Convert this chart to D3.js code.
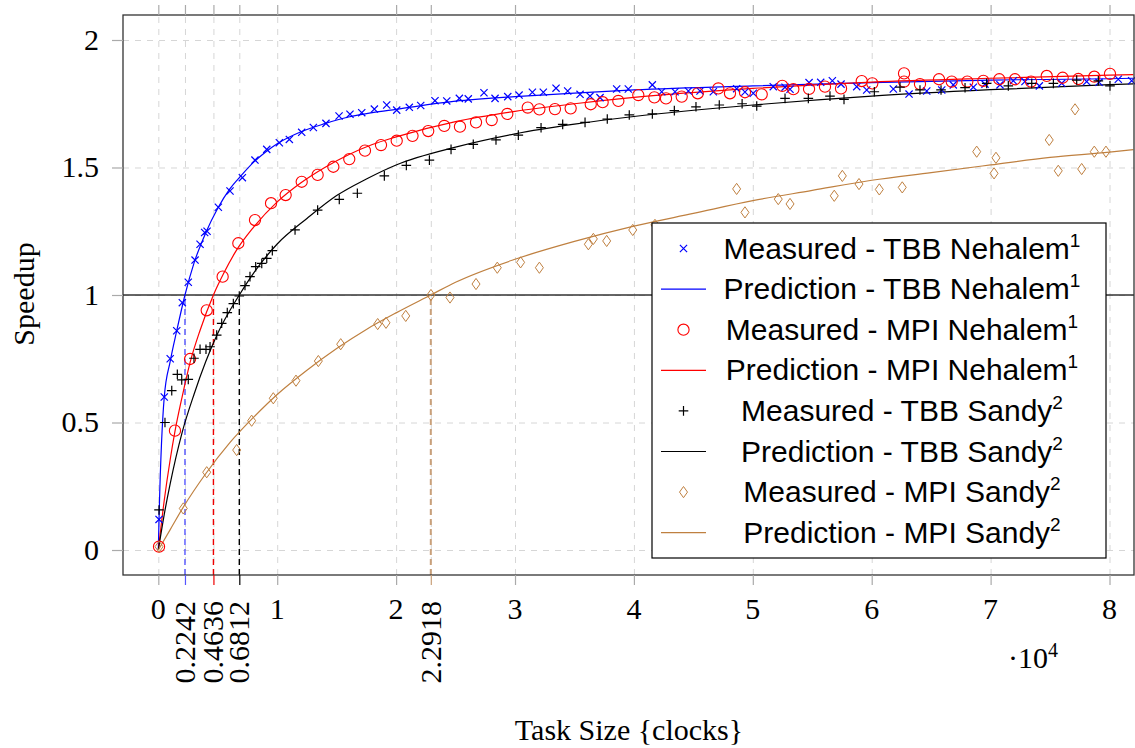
<!DOCTYPE html>
<html>
<head>
<meta charset="utf-8">
<script src="https://cdn.jsdelivr.net/npm/d3@7"></script>
<style>
  body { margin: 0; background: #fff; }
  .tick-label { font-family: "Liberation Serif", serif; font-size: 30px; fill: #000; }
  .legend text { font-family: "Liberation Sans", sans-serif; font-size: 30px; fill: #000; }
</style>
</head>
<body>
<div id="chart"></div>
<script>
// x values are task size in units of 10^4 clocks
const xMajorTicks = [0, 1, 2, 3, 4, 5, 6, 7, 8];
const xThresholdTicks = [0.2242, 0.4636, 0.6812, 2.2918];
const yTicks = [0, 0.5, 1, 1.5, 2];

const tbbNehalemMeasured = [[0.006,0.12],[0.05,0.60],[0.1,0.75],[0.155,0.86],[0.202,0.97],[0.252,1.05],[0.309,1.137],[0.351,1.199],[0.39,1.245],[0.41,1.25],[0.505,1.344],[0.603,1.408],[0.707,1.46],[0.813,1.529],[0.912,1.571],[1.018,1.597],[1.102,1.61],[1.206,1.638],[1.304,1.657],[1.41,1.673],[1.52,1.702],[1.612,1.709],[1.711,1.715],[1.817,1.729],[1.921,1.745],[2.005,1.725],[2.111,1.736],[2.207,1.743],[2.327,1.762],[2.426,1.761],[2.532,1.771],[2.607,1.769],[2.739,1.793],[2.832,1.771],[2.939,1.778],[3.034,1.784],[3.146,1.795],[3.238,1.795],[3.345,1.811],[3.443,1.8],[3.547,1.787],[3.631,1.78],[3.715,1.774],[3.855,1.808],[3.953,1.808],[4.155,1.824],[4.234,1.797],[4.346,1.797],[4.458,1.8],[4.556,1.8],[4.668,1.797],[4.864,1.809],[4.934,1.796],[5.004,1.791],[5.172,1.817],[5.271,1.815],[5.313,1.807],[5.473,1.833],[5.571,1.834],[5.669,1.84],[5.742,1.827],[5.874,1.817],[5.958,1.804],[6.182,1.808],[6.314,1.788],[6.463,1.8],[6.589,1.804],[6.686,1.824],[6.855,1.815],[6.953,1.827],[7.079,1.824],[7.191,1.84],[7.289,1.837],[7.41,1.82],[7.598,1.83],[7.808,1.837],[7.912,1.834],[8.074,1.846],[8.186,1.84]];
const tbbNehalemPrediction = [[0,0],[0.006,0.12],[0.05,0.6],[0.1,0.74],[0.155,0.86],[0.2242,1.0],[0.3,1.125],[0.4,1.245],[0.5,1.34],[0.6,1.415],[0.7,1.47],[0.8,1.52],[0.9,1.56],[1.0,1.593],[1.2,1.64],[1.4,1.672],[1.6,1.698],[1.8,1.715],[2.0,1.728],[2.5,1.76],[3,1.778],[3.5,1.792],[4,1.804],[5,1.82],[6,1.833],[7,1.843],[8,1.848],[8.2,1.85]];

const mpiNehalemMeasured = [[0.006,0.013],[0.14,0.468],[0.267,0.749],[0.407,0.94],[0.541,1.072],[0.673,1.203],[0.813,1.294],[0.948,1.36],[1.071,1.392],[1.206,1.444],[1.34,1.471],[1.472,1.503],[1.606,1.533],[1.738,1.566],[1.873,1.588],[2.005,1.605],[2.138,1.624],[2.27,1.643],[2.405,1.663],[2.537,1.66],[2.672,1.677],[2.804,1.686],[2.935,1.71],[3.107,1.735],[3.205,1.728],[3.336,1.729],[3.468,1.732],[3.637,1.748],[3.737,1.756],[3.869,1.761],[4.037,1.784],[4.172,1.775],[4.27,1.771],[4.402,1.778],[4.537,1.791],[4.71,1.81],[4.808,1.791],[4.934,1.795],[5.075,1.787],[5.248,1.82],[5.341,1.807],[5.473,1.808],[5.607,1.817],[5.742,1.81],[5.916,1.839],[6.005,1.83],[6.272,1.869],[6.272,1.837],[6.406,1.827],[6.566,1.846],[6.673,1.837],[6.804,1.837],[6.939,1.84],[7.073,1.846],[7.205,1.846],[7.34,1.837],[7.472,1.859],[7.606,1.852],[7.738,1.847],[7.872,1.856],[8.004,1.867]];
const mpiNehalemPrediction = [[0,0],[0.05,0.195],[0.1,0.355],[0.14,0.465],[0.2,0.6],[0.267,0.735],[0.35,0.86],[0.4636,1.0],[0.55,1.085],[0.65,1.17],[0.8,1.265],[1.0,1.365],[1.2,1.44],[1.4,1.5],[1.6,1.55],[1.8,1.59],[2.0,1.62],[2.5,1.68],[3,1.72],[3.5,1.75],[4,1.775],[5,1.81],[6,1.835],[7,1.85],[8,1.862],[8.2,1.864]];

const tbbSandyMeasured = [[0.006,0.157],[0.056,0.5],[0.113,0.625],[0.16,0.689],[0.197,0.667],[0.252,0.669],[0.3,0.752],[0.351,0.787],[0.401,0.787],[0.435,0.797],[0.491,0.843],[0.533,0.889],[0.58,0.931],[0.631,0.966],[0.681,0.996],[0.729,1.037],[0.771,1.072],[0.819,1.111],[0.87,1.124],[0.912,1.144],[0.959,1.174],[1.15,1.255],[1.34,1.333],[1.522,1.375],[1.674,1.399],[1.901,1.467],[2.086,1.508],[2.28,1.529],[2.462,1.571],[2.649,1.591],[2.84,1.608],[3.028,1.627],[3.219,1.656],[3.401,1.669],[3.589,1.677],[3.776,1.69],[3.961,1.706],[4.155,1.71],[4.34,1.723],[4.522,1.738],[4.718,1.745],[4.91,1.75],[5.033,1.741],[5.271,1.771],[5.467,1.771],[5.649,1.78],[5.767,1.767],[6.022,1.797],[6.238,1.815],[6.406,1.804],[6.583,1.804],[6.785,1.813],[6.967,1.83],[7.149,1.82],[7.346,1.83],[7.528,1.83],[7.724,1.843],[7.906,1.84],[8.004,1.82]];
const tbbSandyPrediction = [[0,0],[0.05,0.14],[0.1,0.26],[0.2,0.46],[0.3,0.61],[0.4,0.74],[0.5,0.85],[0.6812,1.0],[0.8,1.085],[1.0,1.2],[1.25,1.3],[1.5,1.39],[1.75,1.455],[2.0,1.51],[2.5,1.58],[3,1.632],[3.5,1.67],[4,1.70],[5,1.745],[6,1.78],[7,1.805],[8,1.825],[8.2,1.828]];

const mpiSandyMeasured = [[0.006,0.013],[0.21,0.163],[0.407,0.305],[0.659,0.392],[0.785,0.507],[0.967,0.595],[1.158,0.664],[1.346,0.741],[1.534,0.807],[1.845,0.886],[1.915,0.891],[2.081,0.918],[2.293,1.0],[2.453,0.99],[2.672,1.043],[2.851,1.107],[3.047,1.128],[3.205,1.107],[3.617,1.199],[3.659,1.22],[3.771,1.212],[3.99,1.255],[4.177,1.275],[4.864,1.416],[4.934,1.324],[5.214,1.376],[5.313,1.357],[5.685,1.389],[5.753,1.467],[5.893,1.435],[6.064,1.414],[6.257,1.422],[6.883,1.562],[7.029,1.477],[7.045,1.538],[7.493,1.608],[7.569,1.487],[7.71,1.728],[7.766,1.494],[7.872,1.562],[7.97,1.562]];
const mpiSandyPrediction = [[0,0],[0.1,0.08],[0.21,0.168],[0.4,0.3],[0.6,0.42],[0.8,0.52],[1.0,0.61],[1.25,0.705],[1.5,0.79],[1.75,0.865],[2.0,0.93],[2.2918,1.0],[2.5,1.05],[3,1.14],[3.5,1.21],[4,1.27],[4.5,1.32],[5,1.37],[5.5,1.41],[6,1.45],[6.5,1.48],[7,1.51],[7.5,1.54],[8,1.56],[8.2,1.57]];

const BROWN = '#bf8040';

var series = [
  {name: 'TBB Nehalem', sup: '1', color: '#0000ff', marker: 'cross', measured: tbbNehalemMeasured, prediction: tbbNehalemPrediction},
  {name: 'MPI Nehalem', sup: '1', color: '#ff0000', marker: 'circle', measured: mpiNehalemMeasured, prediction: mpiNehalemPrediction},
  {name: 'TBB Sandy', sup: '2', color: '#000000', marker: 'plus', measured: tbbSandyMeasured, prediction: tbbSandyPrediction},
  {name: 'MPI Sandy', sup: '2', color: BROWN, marker: 'diamond', measured: mpiSandyMeasured, prediction: mpiSandyPrediction}
];
// colour of each threshold tick, same order as xThresholdTicks
var thresholdColors = ['#5555ff', '#ee0000', '#000000', '#c9a07a'];

var width = 1135, height = 748;
var margin = {top: 15, right: 1, bottom: 173, left: 123};
var w = width - margin.left - margin.right;
var h = height - margin.top - margin.bottom;

var svg = d3.select('#chart').append('svg').attr('width', width).attr('height', height);
var g = svg.append('g').attr('transform', 'translate(' + margin.left + ',' + margin.top + ')');

var x = d3.scaleLinear().domain([-0.297, 8.206]).range([0, w]);
var y = d3.scaleLinear().domain([-0.098, 2.098]).range([h, 0]);

var allXTicks = xMajorTicks.concat(xThresholdTicks).sort(function (a, b) { return a - b; });

// grid
g.append('g')
  .attr('transform', 'translate(0,' + h + ')')
  .call(d3.axisBottom(x).tickValues(allXTicks).tickSize(-h).tickFormat(''))
  .call(function (s) {
    s.select('.domain').remove();
    s.selectAll('line').attr('stroke', '#d6d6d6').attr('stroke-width', 1).attr('stroke-dasharray', '6,6');
  });
g.append('g')
  .call(d3.axisLeft(y).tickValues(yTicks).tickSize(-w).tickFormat(''))
  .call(function (s) {
    s.select('.domain').remove();
    s.selectAll('line').attr('stroke', '#d6d6d6').attr('stroke-width', 1).attr('stroke-dasharray', '6,6');
  });

// speedup = 1 reference line
g.append('line')
  .attr('x1', 0).attr('x2', w)
  .attr('y1', y(1)).attr('y2', y(1))
  .attr('stroke', '#333').attr('stroke-width', 1.3);

// threshold markers: dashed verticals from the bottom up to speedup 1
g.selectAll('.threshold')
  .data(xThresholdTicks)
  .enter().append('line')
  .attr('class', 'threshold')
  .attr('x1', function (d) { return x(d); })
  .attr('x2', function (d) { return x(d); })
  .attr('y1', h)
  .attr('y2', y(1))
  .attr('stroke', function (d, i) { return thresholdColors[i]; })
  .attr('stroke-width', function (d, i) { return i === 3 ? 2 : 1.4; })
  .attr('stroke-dasharray', '6,4');

var line = d3.line()
  .x(function (d) { return x(d[0]); })
  .y(function (d) { return y(d[1]); })
  .curve(d3.curveMonotoneX);

var markerPaths = {
  cross: 'M-3.6,-3.6L3.6,3.6M-3.6,3.6L3.6,-3.6',
  plus: 'M-4.8,0H4.8M0,-4.8V4.8',
  diamond: 'M0,-5.6L4,0L0,5.6L-4,0Z'
};

function drawMarker(sel, type, color) {
  if (type === 'circle') {
    sel.append('circle').attr('r', 5.6).attr('fill', 'none').attr('stroke', color).attr('stroke-width', 1.1);
  } else {
    sel.append('path').attr('d', markerPaths[type]).attr('fill', 'none').attr('stroke', color)
      .attr('stroke-width', type === 'diamond' ? 1 : 1.2);
  }
}

series.forEach(function (s) {
  g.append('path')
    .datum(s.prediction)
    .attr('fill', 'none')
    .attr('stroke', s.color)
    .attr('stroke-width', 1.2)
    .attr('d', line);
});

series.forEach(function (s) {
  g.append('g').selectAll('g')
    .data(s.measured)
    .enter().append('g')
    .attr('transform', function (d) { return 'translate(' + x(d[0]) + ',' + y(d[1]) + ')'; })
    .each(function () { drawMarker(d3.select(this), s.marker, s.color); });
});

// frame
g.append('rect')
  .attr('width', w).attr('height', h)
  .attr('fill', 'none').attr('stroke', '#333').attr('stroke-width', 1.3);

// outside ticks on all four sides
function tickStyle(s, colorFn) {
  s.select('.domain').remove();
  s.selectAll('line').attr('stroke', function (d) { return colorFn(d); }).attr('stroke-width', 1.2);
}
function xTickColor(d) {
  var i = xThresholdTicks.indexOf(d);
  return i >= 0 ? thresholdColors[i] : '#aaa';
}

g.append('g')
  .attr('transform', 'translate(0,' + h + ')')
  .call(d3.axisBottom(x).tickValues(allXTicks).tickSize(10).tickFormat(''))
  .call(tickStyle, xTickColor);
g.append('g')
  .call(d3.axisTop(x).tickValues(allXTicks).tickSize(10).tickFormat(''))
  .call(tickStyle, function () { return '#aaa'; });
g.append('g')
  .call(d3.axisLeft(y).tickValues(yTicks).tickSize(11).tickFormat(''))
  .call(tickStyle, function () { return '#aaa'; });

// x tick labels
g.append('g').selectAll('text')
  .data(xMajorTicks)
  .enter().append('text')
  .attr('class', 'tick-label')
  .attr('x', function (d) { return x(d); })
  .attr('y', h + 44)
  .attr('text-anchor', 'middle')
  .text(function (d) { return d; });

g.append('g').selectAll('text')
  .data(xThresholdTicks)
  .enter().append('text')
  .attr('class', 'tick-label')
  .attr('transform', function (d) { return 'translate(' + x(d) + ',' + (h + 26) + ') rotate(-90)'; })
  .attr('dy', '0.33em')
  .attr('text-anchor', 'end')
  .text(function (d) { return d3.format('.4f')(d); });

// y tick labels
g.append('g').selectAll('text')
  .data(yTicks)
  .enter().append('text')
  .attr('class', 'tick-label')
  .attr('x', -24)
  .attr('y', function (d) { return y(d); })
  .attr('dy', '0.33em')
  .attr('text-anchor', 'end')
  .text(function (d) { return d; });

// scale note
var note = svg.append('text')
  .attr('class', 'tick-label')
  .attr('x', 1008)
  .attr('y', 668);
note.append('tspan').text('\u00b710');
note.append('tspan').attr('font-size', 20).attr('dy', -11).text('4');

// axis titles
svg.append('text')
  .attr('class', 'tick-label')
  .attr('font-size', 33)
  .attr('x', 629)
  .attr('y', 740)
  .attr('text-anchor', 'middle')
  .text('Task Size {clocks}');

svg.append('text')
  .attr('class', 'tick-label')
  .attr('font-size', 33)
  .attr('transform', 'translate(34,294) rotate(-90)')
  .attr('text-anchor', 'middle')
  .text('Speedup');

// legend
var legendX = 652, legendY = 223, legendW = 454, legendH = 335, rowH = 40.6;
var legend = svg.append('g').attr('class', 'legend');
legend.append('rect')
  .attr('x', legendX).attr('y', legendY)
  .attr('width', legendW).attr('height', legendH)
  .attr('fill', '#fff').attr('stroke', '#000').attr('stroke-width', 1.2);

var entries = [];
series.forEach(function (s) {
  entries.push({kind: 'measured', s: s});
  entries.push({kind: 'prediction', s: s});
});

var rows = legend.selectAll('.row')
  .data(entries)
  .enter().append('g')
  .attr('class', 'row')
  .attr('transform', function (d, i) { return 'translate(' + legendX + ',' + (legendY + 25.5 + i * rowH) + ')'; });

rows.each(function (d) {
  var r = d3.select(this);
  if (d.kind === 'measured') {
    var m = r.append('g').attr('transform', 'translate(31.5,0)');
    drawMarker(m, d.s.marker, d.s.color);
  } else {
    r.append('line').attr('x1', 9).attr('x2', 54).attr('y1', 0).attr('y2', 0)
      .attr('stroke', d.s.color).attr('stroke-width', 1.2);
  }
  var t = r.append('text')
    .attr('x', 250)
    .attr('y', 10)
    .attr('text-anchor', 'middle');
  t.append('tspan').text((d.kind === 'measured' ? 'Measured' : 'Prediction') + ' - ' + d.s.name);
  t.append('tspan').attr('font-size', 19).attr('dy', -12).text(d.s.sup);
});
</script>
</body>
</html>
